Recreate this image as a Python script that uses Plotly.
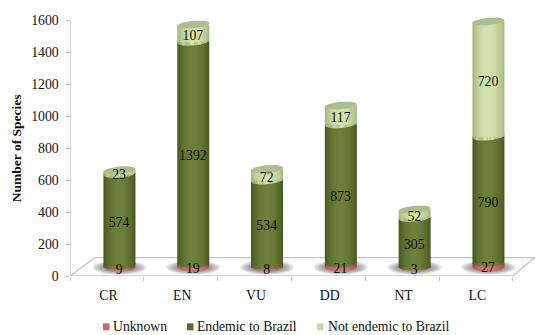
import numpy as np
import plotly.graph_objects as go

# Threatened-status classes and species counts per endemism group
categories = ["CR", "EN", "VU", "DD", "NT", "LC"]
unknown = [9, 19, 8, 21, 3, 27]
endemic = [574, 1392, 534, 873, 305, 790]
not_endemic = [23, 107, 72, 117, 52, 720]
series_names = ["Unknown", "Endemic to Brazil", "Not endemic to Brazil"]
y_ticks = [0, 200, 400, 600, 800, 1000, 1200, 1400, 1600]

# Pixel geometry of the plotting area; the value range has headroom above the
# last tick so the top ellipse of the tallest column fits inside it
WIDTH, HEIGHT = 535, 335
LEFT, BOTTOM_PX = 70, 276.5
UY = 256.5 / 1600                  # pixels per species
Y_MAX = 1640
TOP = BOTTOM_PX - Y_MAX * UY
STEP_PX = 73.8
X_MAX = -0.5 + (WIDTH - LEFT) / STEP_PX
LIFT = 9 / UY                      # columns stand back from the front of the floor
SHIFT = 0.17                       # same depth offset, horizontally
COL_W = 32 / STEP_PX
CAP_B = 3.8 / UY                   # half height of an end ellipse
TILT = 0.085 * STEP_PX / UY        # species per x unit: ellipses rise to the right

# Edge and centre shades for the cylinder shading
SHADES = {
    "Unknown": ("#b04643", "#dc736e"),
    "Endemic to Brazil": ("#48591f", "#6c803c"),
    "Not endemic to Brazil": ("#a6b782", "#d3e2ae"),
}
CAP_COLOR = "#aebd8e"
N_BANDS = 14


def mix(c1, c2, t):
    a = [int(c1[i:i + 2], 16) for i in (1, 3, 5)]
    b = [int(c2[i:i + 2], 16) for i in (1, 3, 5)]
    return "rgb(%d,%d,%d)" % tuple(round(p + (q - p) * t) for p, q in zip(a, b))


def band_color(name, frac):
    """frac 0 at the column edge, 1 on its centre line."""
    lo, hi = SHADES[name]
    return mix(lo, hi, np.sin(frac * np.pi / 2) ** 0.8)


def rim(cx, xs, yc, tilt):
    """Lower rim of an end ellipse at height yc for the x positions xs."""
    u = np.clip((xs - cx) / (COL_W / 2), -1, 1)
    return yc + tilt * (xs - cx) - CAP_B * np.sqrt(1 - u ** 2)


def add_polys(fig, px, py, color):
    fig.add_trace(go.Scatter(
        x=px, y=py, mode="lines", fill="toself", line=dict(width=0),
        fillcolor=color, showlegend=False, hoverinfo="skip",
    ))


fig = go.Figure()

series = [unknown, endemic, not_endemic]
bases = [[LIFT] * 6]
bases.append([b + v for b, v in zip(bases[0], unknown)])
bases.append([b + v for b, v in zip(bases[1], endemic)])
tops = [b + v for b, v in zip(bases[2], not_endemic)]
xpos = [i + SHIFT for i in range(6)]

# Columns: nested bars of decreasing width give the round shading
for name, vals, base in zip(series_names, series, bases):
    for k in range(N_BANDS):
        fig.add_trace(go.Bar(
            x=xpos, y=vals, base=base, width=COL_W * (1 - k / N_BANDS),
            marker=dict(color=band_color(name, k / (N_BANDS - 1)), line=dict(width=0)),
            name=name, showlegend=False, hoverinfo="skip",
        ))

# Segment joints: the upper colour dips below the joint where the rim falls under it,
# the lower colour climbs above it where the rim rises over it.
# The two lowest rims are kept nearly level so the red band stays even.
seg_tilts = [0, TILT * 0.25, TILT]
for seg, (name, base) in enumerate(zip(series_names, bases)):
    tilt = seg_tilts[seg]
    lower = series_names[seg - 1] if seg else None
    for k in range(N_BANDS):
        frac = k / (N_BANDS - 1)
        outer = (1 - k / N_BANDS) * COL_W / 2
        inner = (1 - (k + 1) / N_BANDS) * COL_W / 2
        dn_x, dn_y, up_x, up_y = [], [], [], []
        for cx, b in zip(xpos, base):
            for a1, a2 in ((-outer, -inner), (inner, outer)):
                xs = cx + np.linspace(a1, a2, 6)
                r = rim(cx, xs, b, tilt)
                dn_x += list(xs) + list(xs[::-1]) + [None]
                dn_y += list(np.minimum(r, b)) + [b] * 6 + [None]
                up_x += list(xs) + list(xs[::-1]) + [None]
                up_y += list(np.maximum(r, b)) + [b] * 6 + [None]
        add_polys(fig, dn_x, dn_y, band_color(name, frac))
        if lower:
            add_polys(fig, up_x, up_y, band_color(lower, frac))

# Upper-left column corners trimmed to the round top outline, then the top ellipses
theta = np.linspace(0, 2 * np.pi, 60)
trim_x, trim_y, cap_x, cap_y = [], [], [], []
for cx, yc in zip(xpos, tops):
    xs = cx + np.linspace(-COL_W / 2, 0, 24)
    u = (xs - cx) / (COL_W / 2)
    arc = yc + TILT * (xs - cx) + CAP_B * np.sqrt(1 - u ** 2)
    trim_x += list(xs) + list(xs[::-1]) + [None]
    trim_y += list(np.minimum(arc, yc)) + [yc + 0.5 / UY] * 24 + [None]
    xe = cx + COL_W / 2 * np.cos(theta)
    cap_x += list(xe) + [None]
    cap_y += list(yc + TILT * (xe - cx) + CAP_B * np.sin(theta)) + [None]
add_polys(fig, trim_x, trim_y, "white")
add_polys(fig, cap_x, cap_y, CAP_COLOR)

# Value labels centred on their segments
lab_x, lab_y, lab_t = [], [], []
for vals, base in zip(series, bases):
    for cx, b, v in zip(xpos, base, vals):
        lab_x.append(cx - 0.005)
        lab_y.append(b + v / 2 - 3.8 / UY)
        lab_t.append(str(v))
fig.add_trace(go.Scatter(
    x=lab_x, y=lab_y, text=lab_t, mode="text", textposition="middle center",
    textfont=dict(family="Liberation Serif", size=13.8, color="#111111"),
    showlegend=False, hoverinfo="skip",
))

shapes = []
# Soft floor shadows under the columns
for cx in xpos:
    for scale in np.linspace(1, 0.45, 7):
        hw, hh = 27 / STEP_PX * scale, 7 / UY * scale
        cy = LIFT - 0.5 / UY
        shapes.append(dict(
            type="circle", xref="x", yref="y", layer="below",
            x0=cx - hw, x1=cx + hw, y0=cy - hh, y1=cy + hh,
            fillcolor="rgba(90,90,90,0.16)", line=dict(width=0),
        ))

# Value axis stops at its last tick
shapes.append(dict(type="line", xref="x", yref="y", layer="below",
                   x0=-0.5, x1=-0.5, y0=0, y1=y_ticks[-1],
                   line=dict(color="#bdbdbd", width=1.3)))

# Floor outline in depth
depth_x = 25 / STEP_PX
depth_y = 18.5 / UY
for x0, y0, x1, y1 in [
    (-0.5, 0, 5.5, 0),
    (-0.5, 0, -0.5 + depth_x, depth_y),
    (-0.5 + depth_x, depth_y, X_MAX, depth_y),
    (5.5, 0, 5.5 + 22 / STEP_PX, depth_y),
]:
    shapes.append(dict(type="line", xref="x", yref="y", layer="below",
                       x0=x0, y0=y0, x1=x1, y1=y1,
                       line=dict(color="#c4c4c4", width=1.3)))

# Legend row
annotations = []
legend_items = [(103, 113, "#cf6663"), (187, 197, "#556a2c"), (317, 328, "#c9d8a8")]
LEG_Y = 327.5
for (sq_x, tx_x, col), name in zip(legend_items, series_names):
    shapes.append(dict(type="rect", xref="paper", yref="paper",
                       x0=(sq_x - LEFT) / (WIDTH - LEFT), x1=(sq_x + 6.5 - LEFT) / (WIDTH - LEFT),
                       y0=(BOTTOM_PX - LEG_Y - 3.5) / (BOTTOM_PX - TOP),
                       y1=(BOTTOM_PX - LEG_Y + 3.5) / (BOTTOM_PX - TOP),
                       fillcolor=col, line=dict(width=0)))
    annotations.append(dict(
        xref="paper", yref="paper", showarrow=False, xanchor="left", yanchor="middle",
        x=(tx_x - LEFT) / (WIDTH - LEFT), y=(BOTTOM_PX - LEG_Y) / (BOTTOM_PX - TOP),
        text=name, xshift=-2, font=dict(family="Liberation Serif", size=13.7, color="#111111"),
    ))

fig.update_layout(
    width=WIDTH, height=HEIGHT, barmode="overlay", showlegend=False,
    margin=dict(l=LEFT, r=0, t=TOP, b=HEIGHT - BOTTOM_PX, pad=0),
    plot_bgcolor="white", paper_bgcolor="white",
    font=dict(family="Liberation Serif", size=13.8, color="#111111"),
    shapes=shapes, annotations=annotations,
    xaxis=dict(
        range=[-0.5, X_MAX], tickvals=[i + 0.02 for i in range(6)], ticktext=categories,
        ticks="", ticklabelstandoff=9, showgrid=False, zeroline=False, showline=False,
        minor=dict(tickvals=[i - 0.5 for i in range(7)], ticks="outside", ticklen=3.5,
                   tickcolor="#c4c4c4", tickwidth=1, showgrid=False),
    ),
    yaxis=dict(
        range=[0, Y_MAX], tickvals=y_ticks, ticks="outside", ticklen=3.5, tickcolor="#bdbdbd",
        tickwidth=1, showgrid=False, zeroline=False, showline=False,
        ticklabelstandoff=4,
        title=dict(text="<b>Number of Species\u00a0\u00a0</b>", font=dict(size=13.5), standoff=6),
    ),
)

fig.write_html("out.html")
